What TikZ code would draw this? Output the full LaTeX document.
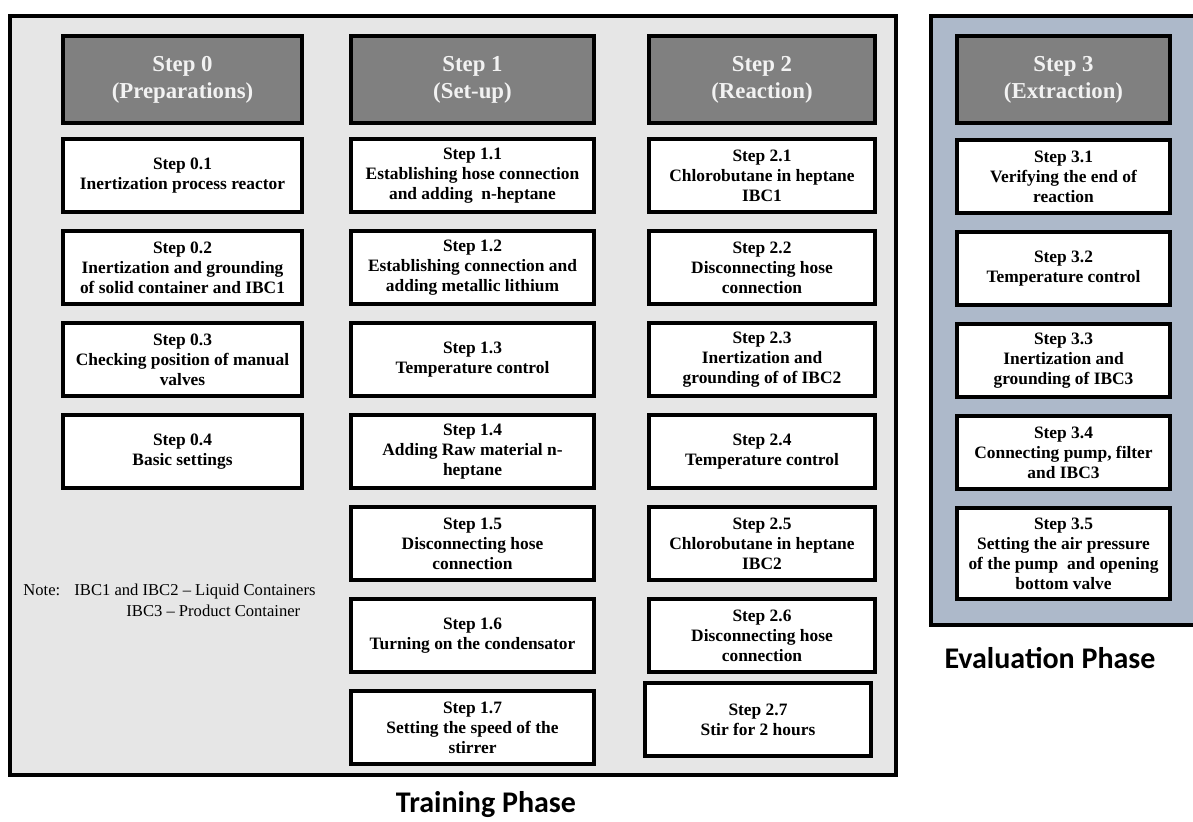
\documentclass[tikz,border=0pt]{standalone}
\usepackage{fontspec}
\setmainfont{Liberation Serif}
\newfontfamily\phasefont{Carlito}
\usetikzlibrary{positioning}
\definecolor{traingray}{RGB}{230,230,230}
\definecolor{evalblue}{RGB}{173,185,202}
\definecolor{headgray}{RGB}{128,128,128}
\definecolor{headtext}{RGB}{242,242,242}
\begin{document}
\begin{tikzpicture}[x=0.5pt,y=-0.5pt,node distance=7.5pt,
  head node/.style={draw=black,line width=2pt,fill=headgray,text=headtext,minimum height=43.5pt,align=center,inner sep=1pt,font=\bfseries\fontsize{11.4}{13.5}\selectfont},
  step node/.style={draw=black,line width=2pt,fill=white,minimum height=36.5pt,align=center,inner sep=1pt,font=\bfseries\fontsize{8.7}{10}\selectfont},
  col0/.style={minimum width=119.5pt},
  col1/.style={minimum width=121.5pt},
  col2/.style={minimum width=113pt},
  col3/.style={minimum width=106.5pt},
  phase label/.style={anchor=base,font=\phasefont\bfseries\fontsize{15}{17}\selectfont}]
  \useasboundingbox (0,0) rectangle (1193,821);

  % phase frames
  \draw[line width=2pt,fill=traingray] (10,16) rectangle (896,775);
  \draw[line width=2pt,fill=evalblue] (931,16) rectangle (1210,625);

  % Step 0
  \node[head node,col0] (s0) at (182.5,79.5) {Step 0\\(Preparations)};
  \node[step node,col0] (s01) [below=6pt of s0] {Step 0.1\\Inertization process reactor};
  \node[step node,col0] (s02) [below=of s01] {Step 0.2\\Inertization and grounding\\of solid container and IBC1};
  \node[step node,col0] (s03) [below=of s02] {Step 0.3\\Checking position of manual\\valves};
  \node[step node,col0] (s04) [below=of s03] {Step 0.4\\Basic settings};

  % Step 1
  \node[head node,col1] (s1) at (472.5,79.5) {Step 1\\(Set-up)};
  \node[step node,col1] (s11) [below=6pt of s1] {Step 1.1\\Establishing hose connection\\and adding\ \ n-heptane};
  \node[step node,col1] (s12) [below=of s11] {Step 1.2\\Establishing connection and\\adding metallic lithium};
  \node[step node,col1] (s13) [below=of s12] {Step 1.3\\Temperature control};
  \node[step node,col1] (s14) [below=of s13] {Step 1.4\\Adding Raw material n-\\heptane};
  \node[step node,col1] (s15) [below=of s14] {Step 1.5\\Disconnecting hose\\connection};
  \node[step node,col1] (s16) [below=of s15] {Step 1.6\\Turning on the condensator};
  \node[step node,col1] (s17) [below=of s16] {Step 1.7\\Setting the speed of the\\stirrer};

  % Step 2
  \node[head node,col2] (s2) at (762,79.5) {Step 2\\(Reaction)};
  \node[step node,col2] (s21) [below=6pt of s2] {Step 2.1\\Chlorobutane in heptane\\IBC1};
  \node[step node,col2] (s22) [below=of s21] {Step 2.2\\Disconnecting hose\\connection};
  \node[step node,col2] (s23) [below=of s22] {Step 2.3\\Inertization and\\grounding of of IBC2};
  \node[step node,col2] (s24) [below=of s23] {Step 2.4\\Temperature control};
  \node[step node,col2] (s25) [below=of s24] {Step 2.5\\Chlorobutane in heptane\\IBC2};
  \node[step node,col2] (s26) [below=of s25] {Step 2.6\\Disconnecting hose\\connection};
  \node[step node,col2] (s27) [below=3.5pt of s26,xshift=-2pt] {Step 2.7\\Stir for 2 hours};

  % Step 3
  \node[head node,col3] (s3) at (1063.5,79.5) {Step 3\\(Extraction)};
  \node[step node,col3] (s31) [below=6.5pt of s3] {Step 3.1\\Verifying the end of\\reaction};
  \node[step node,col3] (s32) [below=of s31] {Step 3.2\\Temperature control};
  \node[step node,col3] (s33) [below=of s32] {Step 3.3\\Inertization and\\grounding of IBC3};
  \node[step node,col3] (s34) [below=of s33] {Step 3.4\\Connecting pump, filter\\and IBC3};
  \node[step node,col3,minimum height=45.5pt] (s35) [below=of s34] {Step 3.5\\Setting the air pressure\\of the pump\ \ and opening\\bottom valve};

  % note
  \node[anchor=base west,inner sep=0pt,font=\fontsize{8.3}{10}\selectfont] (note) at (23,595) {Note:};
  \node[anchor=base west,inner sep=0pt,font=\fontsize{8.3}{10}\selectfont] (note1) at (74,595) {IBC1 and IBC2 -- Liquid\ Containers};
  \node[anchor=base west,inner sep=0pt,font=\fontsize{8.3}{10}\selectfont] (note2) at (126,616) {IBC3 -- Product Container};

  % phase labels
  \node[phase label] (train) at (486,812) {Training Phase};
  \node[phase label] (eval) at (1050,668) {Evaluation Phase};
\end{tikzpicture}
\end{document}
